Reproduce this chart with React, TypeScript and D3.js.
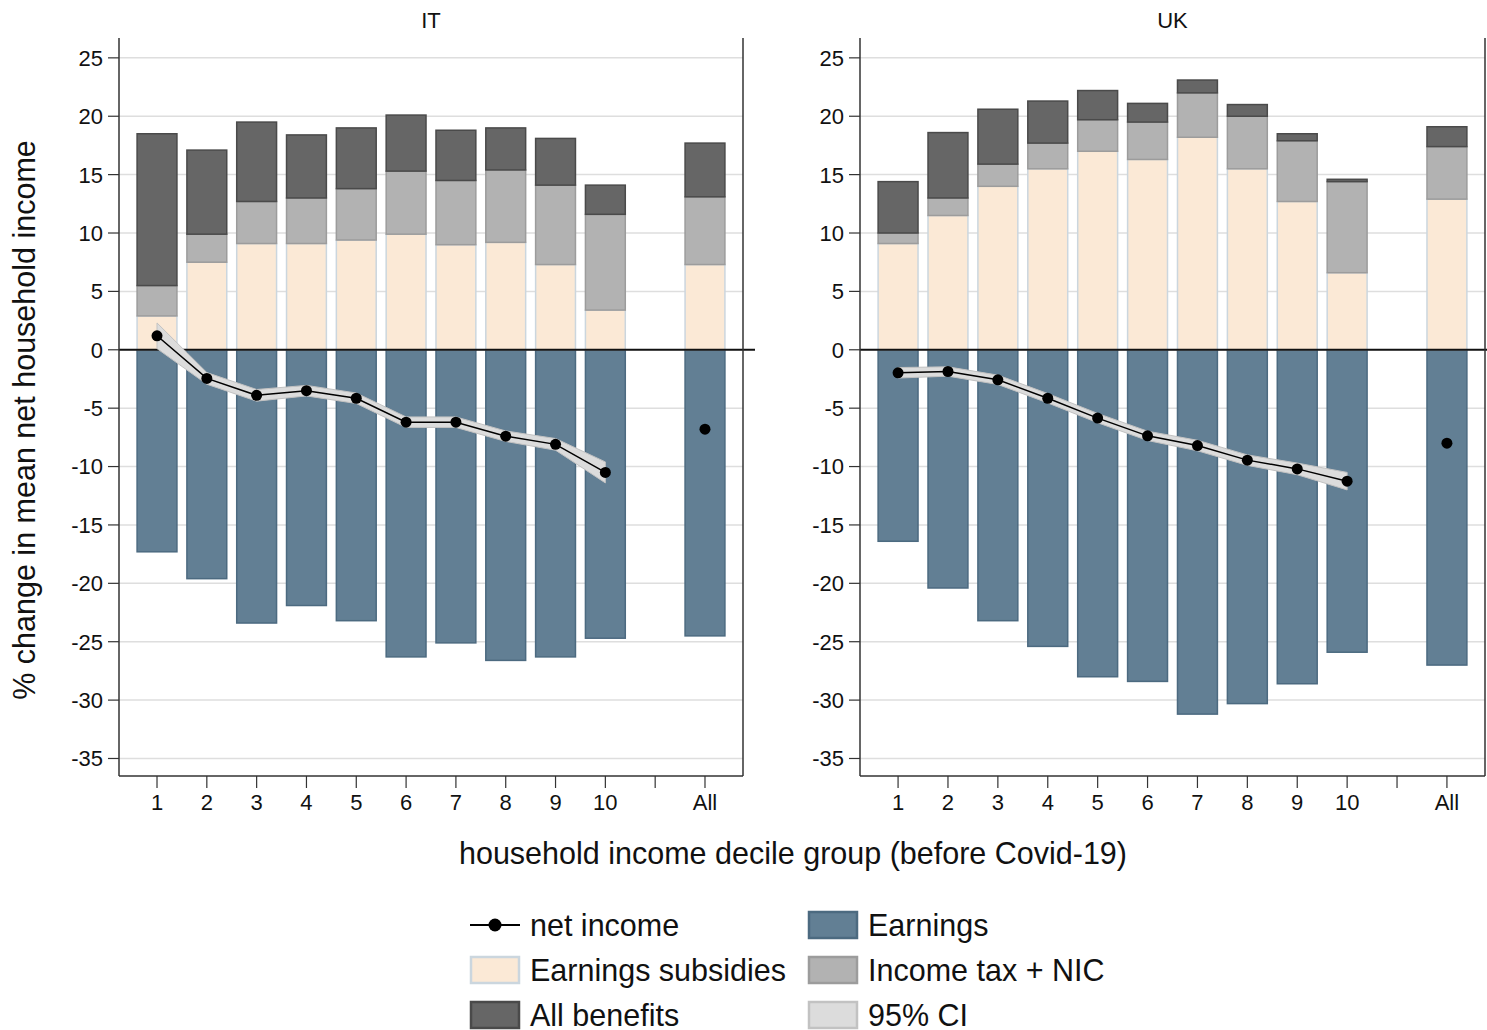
import React from "react";
import * as d3 from "d3";

const categories = ["1", "2", "3", "4", "5", "6", "7", "8", "9", "10", "All"];
const tickLabels = ["1", "2", "3", "4", "5", "6", "7", "8", "9", "10", "", "All"];
const yTicks = [25, 20, 15, 10, 5, 0, -5, -10, -15, -20, -25, -30, -35];

// IT
const itEarnings = [-17.3, -19.6, -23.4, -21.9, -23.2, -26.3, -25.1, -26.6, -26.3, -24.7, -24.5];
const itSubsidies = [2.9, 7.5, 9.1, 9.1, 9.4, 9.9, 9.0, 9.2, 7.3, 3.4, 7.3];
const itTax = [2.6, 2.4, 3.6, 3.9, 4.4, 5.4, 5.5, 6.2, 6.8, 8.2, 5.8];
const itBenefits = [13.0, 7.2, 6.8, 5.4, 5.2, 4.8, 4.3, 3.6, 4.0, 2.5, 4.6];
const itNet = [1.2, -2.45, -3.9, -3.5, -4.15, -6.2, -6.2, -7.4, -8.1, -10.5, -6.8];
const itCiHalf = [1.1, 0.5, 0.5, 0.45, 0.45, 0.45, 0.45, 0.45, 0.5, 0.9];

// UK
const ukEarnings = [-16.4, -20.4, -23.2, -25.4, -28.0, -28.4, -31.2, -30.3, -28.6, -25.9, -27.0];
const ukSubsidies = [9.1, 11.5, 14.0, 15.5, 17.0, 16.3, 18.2, 15.5, 12.7, 6.6, 12.9];
const ukTax = [0.9, 1.5, 1.9, 2.2, 2.7, 3.2, 3.8, 4.5, 5.2, 7.8, 4.5];
const ukBenefits = [4.4, 5.6, 4.7, 3.6, 2.5, 1.6, 1.1, 1.0, 0.6, 0.2, 1.7];
const ukNet = [-1.97, -1.86, -2.57, -4.15, -5.85, -7.37, -8.2, -9.45, -10.2, -11.25, -8.0];
const ukCiHalf = [0.45, 0.4, 0.4, 0.4, 0.4, 0.4, 0.45, 0.45, 0.5, 0.75];

const FONT = "'Liberation Sans', Arial, Helvetica, sans-serif";
const COLORS = {
  earnings: { fill: "#627f94", stroke: "#4c6a80" },
  subsidies: { fill: "#fbe9d6", stroke: "#cbd6de" },
  tax: { fill: "#b2b2b2", stroke: "#9c9c9c" },
  benefits: { fill: "#666666", stroke: "#4a4a4a" },
  ci: { fill: "#dcdcdc", stroke: "#c2c2c2" },
};

const TOP = 38;
const BOTTOM = 776;
const TICK_FONT = 22;
const BIG_FONT = 30.5;

type PanelProps = {
  title: string;
  left: number;
  right: number;
  earnings: number[];
  subsidies: number[];
  tax: number[];
  benefits: number[];
  net: number[];
  ciHalf: number[];
};

function Panel(p: PanelProps) {
  const x = d3.scaleLinear().domain([0.237, 12.763]).range([p.left, p.right]);
  const y = d3.scaleLinear().domain([-36.5, 26.7]).range([BOTTOM, TOP]);
  const pos = (i: number) => (i < 10 ? i + 1 : 12);
  const bw = x(0.8) - x(0);

  const rows = categories.map((c, i) => ({
    i,
    subsidies: p.subsidies[i],
    tax: p.tax[i],
    benefits: p.benefits[i],
  }));
  const stack = d3.stack<any>().keys(["subsidies", "tax", "benefits"]);
  const layers = stack(rows);

  const deciles = p.net.slice(0, 10).map((v, i) => ({ x: i + 1, v, h: p.ciHalf[i] }));
  const area = d3
    .area<any>()
    .x((d) => x(d.x))
    .y0((d) => y(d.v - d.h))
    .y1((d) => y(d.v + d.h));
  const line = d3
    .line<any>()
    .x((d) => x(d.x))
    .y((d) => y(d.v));

  return (
    <g>
      <text x={(p.left + p.right) / 2} y={28} textAnchor="middle" fontSize={TICK_FONT} fontFamily={FONT} fill="#111">
        {p.title}
      </text>
      {yTicks.map((t) => (
        <g key={t}>
          {t !== 0 && (
            <line x1={p.left} x2={p.right} y1={y(t)} y2={y(t)} stroke="#dedede" strokeWidth={1.5} />
          )}
          <line x1={p.left - 11} x2={p.left} y1={y(t)} y2={y(t)} stroke="#333" strokeWidth={1.2} />
          <text x={p.left - 16} y={y(t)} dy="0.36em" textAnchor="end" fontSize={TICK_FONT} fontFamily={FONT} fill="#111">
            {t}
          </text>
        </g>
      ))}
      {p.earnings.map((v, i) => (
        <rect
          key={"e" + i}
          x={x(pos(i)) - bw / 2}
          y={y(0)}
          width={bw}
          height={y(v) - y(0)}
          fill={COLORS.earnings.fill}
          stroke={COLORS.earnings.stroke}
          strokeWidth={1.5}
        />
      ))}
      {layers.map((layer) =>
        layer.map((d, i) => {
          const c = (COLORS as any)[layer.key];
          return (
            <rect
              key={layer.key + i}
              x={x(pos(i)) - bw / 2}
              y={y(d[1])}
              width={bw}
              height={y(d[0]) - y(d[1])}
              fill={c.fill}
              stroke={c.stroke}
              strokeWidth={1.5}
            />
          );
        })
      )}
      <line x1={p.left} x2={p.right + 12} y1={y(0)} y2={y(0)} stroke="#111" strokeWidth={2} />
      <line x1={p.left} x2={p.left} y1={TOP} y2={BOTTOM} stroke="#333" strokeWidth={1.5} />
      <line x1={p.right} x2={p.right} y1={TOP} y2={BOTTOM} stroke="#333" strokeWidth={1.5} />
      <line x1={p.left} x2={p.right} y1={BOTTOM} y2={BOTTOM} stroke="#333" strokeWidth={1.5} />
      {tickLabels.map((lab, k) => (
        <g key={"xt" + k}>
          <line x1={x(k + 1)} x2={x(k + 1)} y1={BOTTOM} y2={BOTTOM + 12} stroke="#333" strokeWidth={1.2} />
          <text x={x(k + 1)} y={810} textAnchor="middle" fontSize={TICK_FONT} fontFamily={FONT} fill="#111">
            {lab}
          </text>
        </g>
      ))}
      <path d={area(deciles) || ""} fill={COLORS.ci.fill} stroke={COLORS.ci.stroke} strokeWidth={1} />
      <path d={line(deciles) || ""} fill="none" stroke="#000" strokeWidth={1.5} />
      {p.net.map((v, i) => (
        <circle key={"n" + i} cx={x(pos(i))} cy={y(v)} r={5.5} fill="#000" />
      ))}
    </g>
  );
}

function Legend() {
  const items = [
    { col: 0, row: 0, label: "net income", type: "line" },
    { col: 1, row: 0, label: "Earnings", type: "earnings" },
    { col: 0, row: 1, label: "Earnings subsidies", type: "subsidies" },
    { col: 1, row: 1, label: "Income tax + NIC", type: "tax" },
    { col: 0, row: 2, label: "All benefits", type: "benefits" },
    { col: 1, row: 2, label: "95% CI", type: "ci" },
  ];
  const colX = [470, 808];
  const rowY = [925, 970, 1015];
  return (
    <g>
      {items.map((it) => {
        const x0 = colX[it.col];
        const cy = rowY[it.row];
        const c = (COLORS as any)[it.type];
        return (
          <g key={it.label}>
            {it.type === "line" ? (
              <g>
                <line x1={x0} x2={x0 + 50} y1={cy} y2={cy} stroke="#000" strokeWidth={2} />
                <circle cx={x0 + 25} cy={cy} r={6.5} fill="#000" />
              </g>
            ) : (
              <rect x={x0 + 1} y={cy - 13} width={48} height={26} fill={c.fill} stroke={c.stroke} strokeWidth={2.5} />
            )}
            <text x={x0 + 60} y={cy} dy="0.35em" fontSize={BIG_FONT} fontFamily={FONT} fill="#111">
              {it.label}
            </text>
          </g>
        );
      })}
    </g>
  );
}

export default function App() {
  return (
    <svg
      width={1487}
      height={1030}
      style={{ position: "absolute", left: 0, top: 0, display: "block", background: "#fff" }}
    >
      <rect x={0} y={0} width={1487} height={1030} fill="#fff" />
      <Panel
        title="IT"
        left={119}
        right={743}
        earnings={itEarnings}
        subsidies={itSubsidies}
        tax={itTax}
        benefits={itBenefits}
        net={itNet}
        ciHalf={itCiHalf}
      />
      <Panel
        title="UK"
        left={860}
        right={1485}
        earnings={ukEarnings}
        subsidies={ukSubsidies}
        tax={ukTax}
        benefits={ukBenefits}
        net={ukNet}
        ciHalf={ukCiHalf}
      />
      <text
        transform="translate(35,420) rotate(-90)"
        textAnchor="middle"
        fontSize={BIG_FONT}
        fontFamily={FONT}
        fill="#111"
      >
        % change in mean net household income
      </text>
      <text x={793} y={864} textAnchor="middle" fontSize={BIG_FONT} fontFamily={FONT} fill="#111">
        household income decile group (before Covid-19)
      </text>
      <Legend />
    </svg>
  );
}
